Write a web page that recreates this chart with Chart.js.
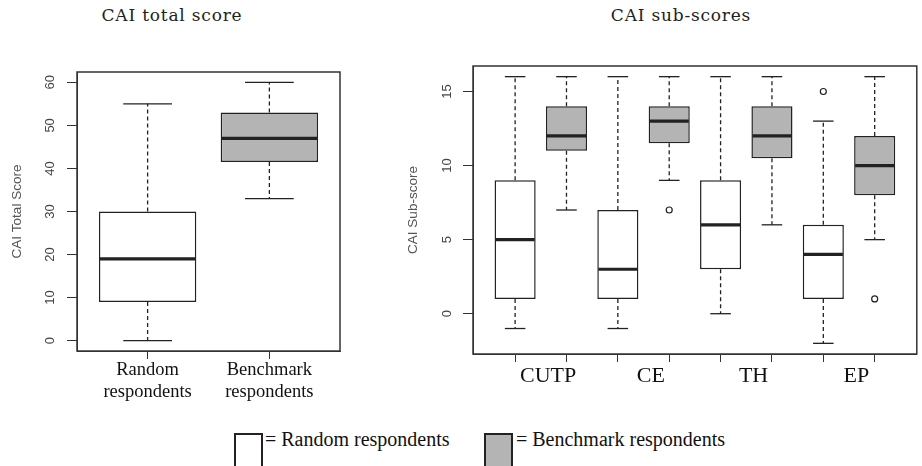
<!DOCTYPE html>
<html>
<head>
<meta charset="utf-8">
<script src="https://cdn.jsdelivr.net/npm/chart.js@4.4.0/dist/chart.umd.min.js"></script>
<style>
  body{margin:0;background:#fff;width:922px;height:466px;overflow:hidden;position:relative}
  canvas{position:absolute;top:0}
  .ttl{position:absolute;top:5px;transform:translateX(-50%);font-family:"DejaVu Serif";font-size:17px;letter-spacing:0.8px;color:#222;white-space:nowrap}
  .key{position:absolute;top:433px;width:27px;height:40px;border:2px solid #222;box-sizing:border-box}
  .keytxt{position:absolute;top:428px;font-family:"Liberation Serif";font-size:20px;color:#111;white-space:nowrap}
</style>
</head>
<body>
<div class="ttl" style="left:172px">CAI total score</div>
<div class="ttl" style="left:681px">CAI sub-scores</div>
<canvas id="total" width="360" height="410" style="left:0"></canvas>
<canvas id="sub" width="532" height="410" style="left:390px"></canvas>
<div class="key" style="left:234px;width:29px;background:#fff"></div>
<div class="keytxt" style="left:265px">= Random respondents</div>
<div class="key" style="left:484px;width:29px;background:#b4b4b4"></div>
<div class="keytxt" style="left:516px">= Benchmark respondents</div>
<script>
// CAI total score (left panel)
const totalLabels = [['Random','respondents'],['Benchmark','respondents']]
const totalYTicks = [0,10,20,30,40,50,60]
const totalMin = [0, 33]
const totalQ1  = [9, 41.5]
const totalMed = [19, 47]
const totalQ3  = [30, 53]
const totalMax = [55, 60]

// CAI sub-scores (right panel), random then benchmark per group
const subLabels = ['CUTP','CE','TH','EP']
const subYTicks = [0,5,10,15]
const randMin = [-1,-1,0,-2]
const randQ1  = [1,1,3,1]
const randMed = [5,3,6,4]
const randQ3  = [9,7,9,6]
const randMax = [16,16,16,13]
const randOut = [[],[],[],[15]]
const benchMin = [7,9,6,5]
const benchQ1  = [11,11.5,10.5,8]
const benchMed = [12,13,12,10]
const benchQ3  = [14,14,14,12]
const benchMax = [16,16,16,16]
const benchOut = [[],[7],[],[1]]

const ink = '#222'
const grey = '#b4b4b4'

Chart.defaults.font.family = 'Liberation Sans'
Chart.defaults.color = '#333'

function line(ctx, x1, y1, x2, y2){
  ctx.beginPath(); ctx.moveTo(x1, y1); ctx.lineTo(x2, y2); ctx.stroke()
}

// whiskers, caps and medians drawn on top of the floating bars
const boxPlugin = {
  id: 'boxes',
  afterDatasetsDraw(chart){
    const ctx = chart.ctx
    const ys = chart.scales.y
    chart.data.datasets.forEach((ds, di) => {
      if (!ds.stats) return
      const meta = chart.getDatasetMeta(di)
      meta.data.forEach((bar, i) => {
        const cx = bar.x, w = bar.width
        const yQ1 = ys.getPixelForValue(ds.data[i].y[0])
        const yQ3 = ys.getPixelForValue(ds.data[i].y[1])
        const yMin = ys.getPixelForValue(ds.stats.min[i])
        const yMax = ys.getPixelForValue(ds.stats.max[i])
        const yMed = ys.getPixelForValue(ds.stats.med[i])
        ctx.save()
        ctx.strokeStyle = ink
        ctx.lineWidth = 1.3
        ctx.setLineDash([4, 3])
        line(ctx, cx, yQ3, cx, yMax)
        line(ctx, cx, yQ1, cx, yMin)
        ctx.setLineDash([])
        line(ctx, cx - w/4, yMax, cx + w/4, yMax)
        line(ctx, cx - w/4, yMin, cx + w/4, yMin)
        ctx.lineWidth = 3.2
        line(ctx, cx - w/2 + 1, yMed, cx + w/2 - 1, yMed)
        ctx.restore()
      })
    })
  },
  afterDraw(chart){
    const a = chart.chartArea, ctx = chart.ctx
    ctx.save()
    ctx.strokeStyle = '#333'
    ctx.lineWidth = 1.5
    ctx.strokeRect(a.left, a.top, a.right - a.left, a.bottom - a.top)
    ctx.restore()
  }
}

function boxSet(pos, q1, q3, min, med, max, fill){
  return {
    type: 'bar',
    data: pos.map((p, i) => ({x: p, y: [q1[i], q3[i]]})),
    stats: {min: min, med: med, max: max},
    backgroundColor: fill,
    borderColor: ink,
    borderWidth: 1.5,
    borderSkipped: false,
    grouped: false,
    barPercentage: 0.8,
    categoryPercentage: 1.0,
    order: 2
  }
}

function outlierSet(pos, outs){
  const pts = []
  outs.forEach((list, i) => list.forEach(v => pts.push({x: pos[i], y: v})))
  return {
    type: 'scatter',
    data: pts,
    pointRadius: 3,
    pointBackgroundColor: '#fff',
    pointBorderColor: ink,
    pointBorderWidth: 1.2,
    order: 1
  }
}

function makeChart(id, o){
  return new Chart(document.getElementById(id), {
    type: 'bar',
    data: {datasets: o.datasets},
    options: {
      responsive: false,
      animation: false,
      layout: {padding: {top: o.top, right: o.right, left: 0, bottom: 0}},
      plugins: {legend: {display: false}, tooltip: {enabled: false}},
      scales: {
        x: {
          type: 'linear', min: o.xmin, max: o.xmax, offset: false,
          afterBuildTicks: s => { s.ticks = o.xTicks.map(v => ({value: v})) },
          afterFit: s => { s.height = o.xHeight },
          grid: {display: true, drawOnChartArea: false, drawTicks: true, tickLength: 8, color: '#333', offset: false},
          border: {display: true, color: '#333'},
          ticks: {
            callback: o.xCallback, maxRotation: 0, autoSkip: false,
            labelOffset: o.labelOffset, padding: o.xPad,
            font: {family: 'Liberation Serif', size: o.xFont, lineHeight: 1.15}, color: '#111'
          }
        },
        y: {
          min: o.ymin, max: o.ymax,
          afterBuildTicks: s => { s.ticks = o.yTicks.map(v => ({value: v})) },
          afterFit: s => { s.width = o.yWidth },
          grid: {display: true, drawOnChartArea: false, drawTicks: true, tickLength: 10, color: '#333'},
          border: {display: true, color: '#333'},
          ticks: {minRotation: 90, maxRotation: 90, crossAlign: 'center', padding: o.yPad, font: {size: 13}, color: '#444'},
          title: {display: true, text: o.yTitle, color: '#555', font: {size: 13.5}, padding: {top: o.titlePad, bottom: 0}}
        }
      }
    },
    plugins: [boxPlugin]
  })
}

// left panel
const totalPos = [1, 2]
makeChart('total', {
  datasets: [
    boxSet([totalPos[0]], [totalQ1[0]], [totalQ3[0]], [totalMin[0]], [totalMed[0]], [totalMax[0]], '#fff'),
    boxSet([totalPos[1]], [totalQ1[1]], [totalQ3[1]], [totalMin[1]], [totalMed[1]], [totalMax[1]], grey)
  ],
  top: 72, right: 20, xmin: 0.42, xmax: 2.58, ymin: -2.4, ymax: 62.4,
  xTicks: totalPos, yTicks: totalYTicks, xHeight: 59, yWidth: 77,
  xCallback: (v, i) => totalLabels[i], labelOffset: 0, xPad: 1, xFont: 18.5,
  yPad: 9, yTitle: 'CAI Total Score', titlePad: 9.5
})

// right panel
const randPos = subLabels.map((c, i) => 2*i + 1)
const benchPos = subLabels.map((c, i) => 2*i + 2)
makeChart('sub', {
  datasets: [
    boxSet(randPos, randQ1, randQ3, randMin, randMed, randMax, '#fff'),
    boxSet(benchPos, benchQ1, benchQ3, benchMin, benchMed, benchMax, grey),
    outlierSet(randPos, randOut),
    outlierSet(benchPos, benchOut)
  ],
  top: 66, right: 1, xmin: 0.18, xmax: 8.82, ymin: -2.72, ymax: 16.72,
  xTicks: randPos.concat(benchPos).sort((a, b) => a - b), yTicks: subYTicks, xHeight: 56, yWidth: 83,
  xCallback: (v, i) => i % 2 === 0 ? subLabels[i/2] : '', labelOffset: 33, xPad: 2, xFont: 22,
  yPad: 8, yTitle: 'CAI Sub-score', titlePad: 15
})
</script>
</body>
</html>
